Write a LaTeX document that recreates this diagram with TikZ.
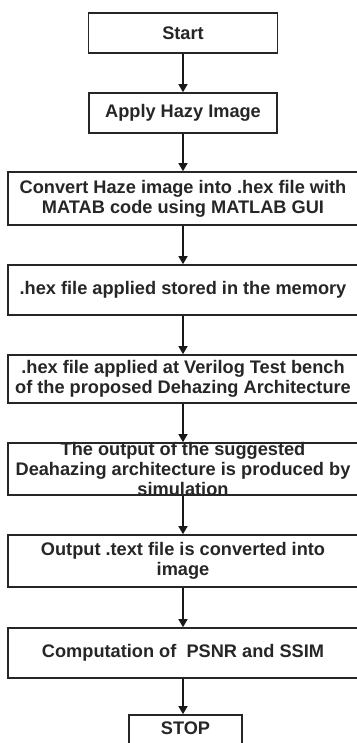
\documentclass[tikz,border=0pt]{standalone}
\usepackage{fontspec}
\setmainfont{Liberation Sans}
\usetikzlibrary{arrows.meta}
\begin{document}
\begin{tikzpicture}[x=1pt,y=-1pt,
  box/.style={draw=black!85,line width=1.6pt,rectangle,inner sep=0pt,fill=white},
  lbl/.style={align=center,inner sep=0pt,font=\fontsize{18.2}{20}\selectfont\bfseries,text=black!85},
  flow/.style={draw=black!90,line width=1.3pt,-{Triangle[length=8pt,width=9pt]}}]
\useasboundingbox (0,0) rectangle (356,743);
% process boxes (the wide ones run past the right edge)
\node[box,minimum width=189,minimum height=40] (start) at (183,33) {};
\node[box,minimum width=188,minimum height=40] (apply) at (183,113) {};
\node[box,minimum width=350,minimum height=53] (conv) at (183,198.5) {};
\node[box,minimum width=350,minimum height=50] (mem) at (183,290) {};
\node[box,minimum width=350,minimum height=48] (tb) at (183,379) {};
\node[box,minimum width=350,minimum height=52] (sim) at (183,469) {};
\node[box,minimum width=350,minimum height=52] (img) at (183,561) {};
\node[box,minimum width=350,minimum height=50] (comp) at (183,653) {};
\node[box,minimum width=113,minimum height=40] (stop) at (185.5,735) {};
% texts
\node[lbl] at (start) {Start};
\node[lbl] at (apply) {Apply Hazy Image};
\node[lbl] at (conv) {Convert Haze image into .hex file with\\MATAB code using MATLAB GUI};
\node[lbl] at (mem) {.hex file applied stored in the memory};
\node[lbl] at (tb) {.hex file applied at Verilog Test bench\\of the proposed Dehazing Architecture};
\node[lbl] at (sim) {The output of the suggested\\Deahazing architecture is produced by\\simulation};
\node[lbl] at (img) {Output .text file is converted into\\image};
\node[lbl] at (comp) {Computation of \ PSNR and SSIM};
\node[lbl] at (185.5,728) {STOP};
% connectors
\draw[flow] (start.south) -- (apply.north);
\draw[flow] (apply.south) -- (conv.north);
\draw[flow] (conv.south) -- (mem.north);
\draw[flow] (mem.south) -- (tb.north);
\draw[flow] (tb.south) -- (sim.north);
\draw[flow] (sim.south) -- (img.north);
\draw[flow] (img.south) -- (comp.north);
\draw[flow] (comp.south) -- (stop.north -| comp.south);
\end{tikzpicture}
\end{document}
